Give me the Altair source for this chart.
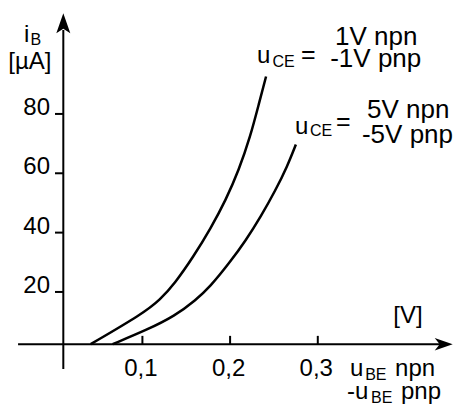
import altair as alt
import pandas as pd

# Input characteristics i_B(u_BE) of a bipolar transistor
ube_1v = [0.041, 0.101, 0.120, 0.137, 0.158, 0.178, 0.195, 0.210, 0.223, 0.233, 0.241]   # V
ib_1v = [2.4, 12.8, 17.3, 22.9, 31.8, 41.5, 50.9, 61.1, 72.3, 83.6, 92.6]                 # µA
ube_5v = [0.066, 0.105, 0.137, 0.161, 0.177, 0.199, 0.218, 0.235, 0.252, 0.265, 0.275]   # V
ib_5v = [2.4, 7.2, 11.9, 17.3, 21.7, 29.7, 37.4, 45.4, 54.4, 62.2, 69.7]                 # µA

ib_ticks = [20, 40, 60, 80]
ube_ticks = [0.1, 0.2, 0.3]
ube_tick_labels = ["0,1", "0,2", "0,3"]

# where the two drawn axes cross
AXIS_UBE = 0.0098
AXIS_IB = 2.4

FONT = "Liberation Sans"
BIG = 24
CURVE = 26
SMALL = 16

xs = alt.Scale(domain=[-0.0624, 0.4599], nice=False, zero=False)
ys = alt.Scale(domain=[-18.1, 118.4], nice=False, zero=False)


def X(f):
    return alt.X(f"{f}:Q", scale=xs, axis=None)


def Y(f):
    return alt.Y(f"{f}:Q", scale=ys, axis=None)


curves = pd.DataFrame({
    "series": ["1V"] * len(ube_1v) + ["5V"] * len(ube_5v),
    "ube": ube_1v + ube_5v,
    "ib": ib_1v + ib_5v,
    "k": list(range(len(ube_1v))) + list(range(len(ube_5v))),
})

lines = alt.Chart(curves).mark_line(
    color="black", strokeWidth=2.5, interpolate="basis"
).encode(x=X("ube"), y=Y("ib"), detail="series:N", order="k:Q")

# axis lines
h_axis = alt.Chart(pd.DataFrame({"x": [-0.0418], "x2": [0.440], "y": [AXIS_IB]})).mark_rule(
    color="black", strokeWidth=2
).encode(x=X("x"), x2="x2:Q", y=Y("y"))
v_axis = alt.Chart(pd.DataFrame({"x": [AXIS_UBE], "y": [-5.97], "y2": [108.3]})).mark_rule(
    color="black", strokeWidth=2
).encode(x=X("x"), y=Y("y"), y2="y2:Q")

# arrow heads
y_arrow = alt.Chart(pd.DataFrame({"x": [AXIS_UBE], "y": [110.55]})).mark_point(
    shape="M0,-1L0.7,1L0,0.55L-0.7,1Z", filled=True, color="black", opacity=1, size=400
).encode(x=X("x"), y=Y("y"))
x_arrow = alt.Chart(pd.DataFrame({"x": [0.4436], "y": [AXIS_IB]})).mark_point(
    shape="M1,0L-1,-0.7L-0.45,0L-1,0.7Z", filled=True, color="black", opacity=1, size=324
).encode(x=X("x"), y=Y("y"))

# tick marks
y_tick_df = pd.DataFrame({"x": [AXIS_UBE - 0.0095] * len(ib_ticks), "x2": [AXIS_UBE] * len(ib_ticks), "y": ib_ticks})
y_tick_marks = alt.Chart(y_tick_df).mark_rule(color="black", strokeWidth=2).encode(
    x=X("x"), x2="x2:Q", y=Y("y"))
x_tick_df = pd.DataFrame({"x": ube_ticks, "y": [AXIS_IB] * 3, "y2": [AXIS_IB + 2.8] * 3})
x_tick_marks = alt.Chart(x_tick_df).mark_rule(color="black", strokeWidth=2).encode(
    x=X("x"), y=Y("y"), y2="y2:Q")

# tick labels
y_tick_text = alt.Chart(pd.DataFrame({"x": [-0.0054] * 4, "y": ib_ticks, "t": [str(v) for v in ib_ticks]})).mark_text(
    font=FONT, fontSize=BIG, align="right", baseline="alphabetic", dy=1, color="black"
).encode(x=X("x"), y=Y("y"), text="t:N")
x_tick_text = alt.Chart(pd.DataFrame({"x": ube_ticks, "y": [-8.3] * 3, "t": ube_tick_labels})).mark_text(
    font=FONT, fontSize=BIG, align="center", baseline="alphabetic", dx=-1.5, color="black"
).encode(x=X("x"), y=Y("y"), text="t:N")


def label(text, x, y, size=BIG, align="left"):
    return alt.Chart(pd.DataFrame({"x": [x], "y": [y], "t": [text]})).mark_text(
        font=FONT, fontSize=size, align=align, baseline="alphabetic", color="black"
    ).encode(x=X("x"), y=Y("y"), text="t:N")


labels = [
    # y axis title
    label("i", -0.035, 104.3),
    label("B", -0.0276, 103.4, SMALL),
    label("[µA]", -0.0529, 95.1),
    # x axis title
    label("[V]", 0.3861, 9.4),
    label("u", 0.3367, -8.3),
    label("BE", 0.3540, -9.7, SMALL),
    label("npn", 0.3881, -8.3),
    label("-u", 0.3333, -16.1),
    label("BE", 0.3608, -17.4, SMALL),
    label("pnp", 0.3949, -16.1),
    # curve for u_CE = 1 V
    label("u", 0.2307, 97.0),
    label("CE", 0.2483, 95.8, SMALL),
    label("=", 0.2808, 97.0, 25),
    label("1V npn", 0.3667, 103.2, CURVE, align="center"),
    label("-1V pnp", 0.3661, 95.8, CURVE, align="center"),
    # curve for u_CE = 5 V
    label("u", 0.2740, 73.4),
    label("CE", 0.2910, 72.4, SMALL),
    label("=", 0.3208, 74.6, 25),
    label("5V npn", 0.4032, 78.6, CURVE, align="center"),
    label("-5V pnp", 0.4023, 70.2, CURVE, align="center"),
]

chart = alt.layer(
    h_axis, v_axis, x_arrow, y_arrow, y_tick_marks, x_tick_marks,
    y_tick_text, x_tick_text, lines, *labels
).properties(
    width=458, height=405, autosize="none", padding=0, background="white"
).configure_view(stroke=None)

chart.save("out.html", embed_options={"renderer": "svg", "actions": False})
